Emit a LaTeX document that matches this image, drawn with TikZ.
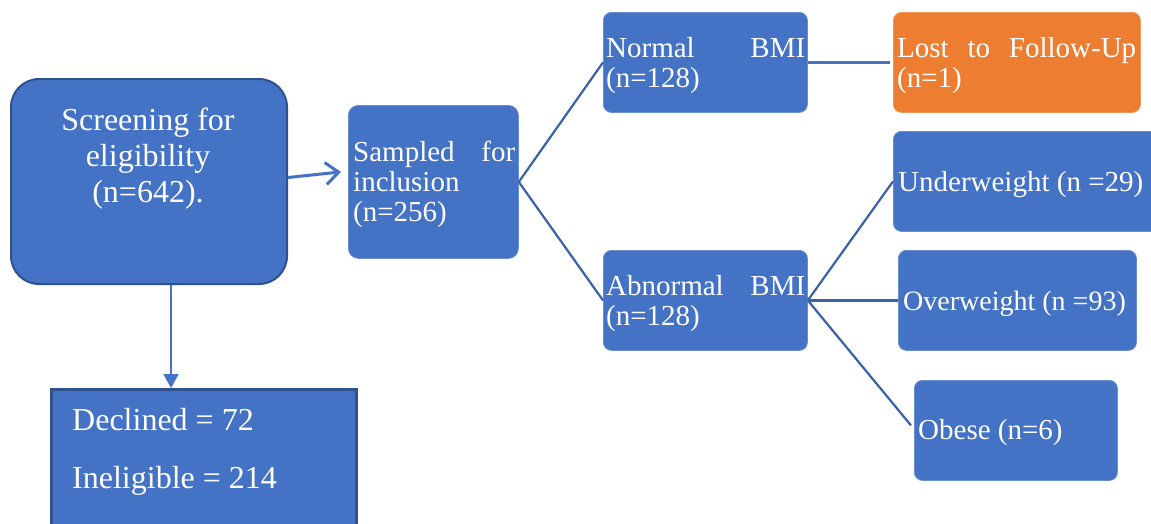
\documentclass[tikz,border=0pt]{standalone}
\usepackage{fontspec}
\setmainfont{Liberation Serif}
\usetikzlibrary{arrows.meta}
\definecolor{boxblue}{HTML}{4472C4}
\definecolor{edgeblue}{HTML}{2F528F}
\definecolor{linkblue}{HTML}{3A62AC}
\definecolor{boxorange}{HTML}{ED7D31}
\tikzset{
  box/.style={fill=boxblue, draw=boxblue!80!white, line width=0.8pt, rounded corners=8pt,
    inner sep=0pt, anchor=north west},
  txt/.style={text=white, inner sep=0pt, font=\fontsize{29}{30}\selectfont},
  link/.style={draw=linkblue, line width=2.2pt},
  bigarrow/.style={draw=boxblue, line width=3pt, -{Straight Barb[length=13pt,width=22pt,line width=3pt]}},
  downarrow/.style={draw=boxblue, line width=2pt, -{Triangle[length=14pt,width=15pt]}},
}
\begin{document}
\begin{tikzpicture}[x=1pt,y=-1pt]
\useasboundingbox (0,0) rectangle (1151,523);
\clip (0,0) rectangle (1151,523);
\fill[white] (0,0) rectangle (1151,523);

% boxes
\node[box, rounded corners=28pt, draw=edgeblue, line width=2pt, minimum width=276pt, minimum height=205pt] (screen) at (10,78) {};
\node[box, rounded corners=0pt, draw=edgeblue, line width=2.5pt, minimum width=305pt, minimum height=170pt] (decl) at (50,388) {};
\node[box, rounded corners=10pt, minimum width=170pt, minimum height=153pt] (sampled) at (348,105) {};
\node[box, minimum width=204pt, minimum height=100pt] (normal) at (603,12) {};
\node[box, minimum width=204pt, minimum height=100pt] (abnormal) at (603,250) {};
\node[box, fill=boxorange, draw=boxorange!80!white, minimum width=247pt, minimum height=100pt] (lost) at (893,12) {};
\node[box, minimum width=270pt, minimum height=100pt] (under) at (893,131) {};
\node[box, minimum width=238pt, minimum height=100pt] (over) at (898,250) {};
\node[box, minimum width=203pt, minimum height=100pt] (obese) at (914,380) {};

% texts
\node[txt, anchor=base, font=\fontsize{32}{36}\selectfont] (screen-t) at (148,130)
  {\parbox[t]{260pt}{\centering Screening for\\ eligibility\\ (n=642).}};
\node[txt, anchor=base west, font=\fontsize{32}{58}\selectfont] (decl-t) at (72,430)
  {\parbox[t]{270pt}{Declined = 72\\ Ineligible = 214}};
\node[txt, anchor=base west] (sampled-t) at (353,161)
  {\parbox[t]{162pt}{Sampled\hfill for\\ inclusion\\ (n=256)}};
\node[txt, anchor=base west] (normal-t) at (606,57)
  {\parbox[t]{199pt}{Normal\hfill BMI\\ (n=128)}};
\node[txt, anchor=base west] (abnormal-t) at (606,295)
  {\parbox[t]{199pt}{Abnormal\hfill BMI\\ (n=128)}};
\node[txt, anchor=base west] (lost-t) at (897,57)
  {\parbox[t]{239pt}{Lost\hfill to\hfill Follow-Up\\ (n=1)}};
\node[txt, anchor=base west] (under-t) at (898,191) {Underweight (n =29)};
\node[txt, anchor=base west, font=\fontsize{28}{30}\selectfont] (over-t) at (903,310) {Overweight (n =93)};
\node[txt, anchor=base west] (obese-t) at (918,439) {Obese (n=6)};

% connectors
\draw[bigarrow] ([yshift=4pt]screen.east) -- ([xshift=-7pt,yshift=10pt]sampled.west);
\draw[downarrow] ([xshift=22pt]screen.south) -- ([xshift=22pt]screen.south |- decl.north);
\draw[link] (sampled.east) -- (normal.west);
\draw[link] (sampled.east) -- (abnormal.west);
\draw[link, draw=boxblue] (normal.east) -- ([xshift=-3pt]lost.west);
\draw[link] (abnormal.east) -- (under.west);
\draw[link] (abnormal.east) -- (over.west);
\draw[link] (abnormal.east) -- ([xshift=-3pt,yshift=5pt]obese.west);
\end{tikzpicture}
\end{document}
